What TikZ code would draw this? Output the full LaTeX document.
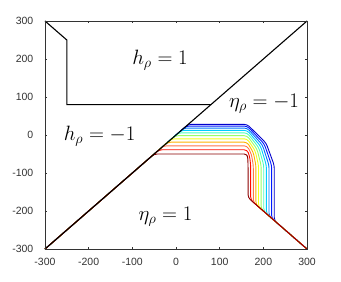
\documentclass[tikz,border=0pt]{standalone}
\usepackage{fontspec}
\setsansfont{Liberation Sans}
\definecolor{c0}{rgb}{0,0,0.8}
\definecolor{c1}{rgb}{0,0.1,1}
\definecolor{c2}{rgb}{0,0.45,1}
\definecolor{c3}{rgb}{0,0.8,1}
\definecolor{c4}{rgb}{0.3,1,0.75}
\definecolor{c5}{rgb}{0.6,1,0.4}
\definecolor{c6}{rgb}{0.95,1,0.1}
\definecolor{c7}{rgb}{1,0.7,0}
\definecolor{c8}{rgb}{1,0.45,0.3}
\definecolor{c9}{rgb}{1,0.05,0}
\definecolor{c10}{rgb}{0.55,0,0}
\definecolor{axiscol}{gray}{0.2}
\begin{document}
\begin{tikzpicture}[x=0.4367pt,y=0.38pt,
  curve/.style={line width=0.9pt, rounded corners=3pt},
  blk/.style={line width=1.1pt, black},
  ticklab/.style={font=\sffamily\fontsize{10.5}{12}\selectfont, inner sep=0pt, text=axiscol},
  lab/.style={font=\fontsize{20}{24}\selectfont, inner sep=0pt}]
\useasboundingbox (-403,355.26) rectangle (377.8,-384.2);
% coloured curves
\foreach \k/\yo/\col in {0/28/c0, 1/23.5/c1, 2/18.3/c2, 3/12.3/c3, 4/5.6/c4, 5/-1.8/c5, 6/-10/c6, 7/-18.9/c7, 8/-28.5/c8, 9/-38.9/c9, 10/-50/c10}{
  \pgfmathsetmacro{\xv}{225-6*\k}
  \pgfmathsetmacro{\xm}{163+0.7*(\xv-163)}
  \pgfmathsetmacro{\ym}{\yo+0.48*(-75-\yo)}
  \draw[curve,\col] (-300,-300) -- (\yo,\yo) -- (163,\yo) -- (\xm,\ym) -- (\xv,-80) -- (\xv,-\xv) -- (300,-300);
}
% black curves
\draw[blk] (-300,300) -- (-250,250) -- (-250,80) -- (80,80);
\draw[blk] (-300,-300) -- (300,300);
% axes box
\draw[axiscol, line width=0.5pt] (-300,-300) rectangle (300,300);
\foreach \t in {-200,-100,0,100,200}{
  \draw[axiscol, line width=0.5pt] (\t,-300) -- ++(0,2.5pt);
  \draw[axiscol, line width=0.5pt] (\t,300) -- ++(0,-2.5pt);
  \draw[axiscol, line width=0.5pt] (-300,\t) -- ++(2.5pt,0);
  \draw[axiscol, line width=0.5pt] (300,\t) -- ++(-2.5pt,0);
}
\foreach \t [count=\i] in {-300,-200,-100,0,100,200,300}{
  \node[ticklab, anchor=north, yshift=-8.5pt] (xl\i) at (\t,-300) {\t};
  \node[ticklab, anchor=east, xshift=-11.5pt] (yl\i) at (-300,\t) {\t};
}
% labels
\node[lab] (h1) at (-36.6,197) {$h_\rho = 1$};
\node[lab] (hm1) at (-175,-3) {$h_\rho = -1$};
\node[lab] (em1) at (201.5,82) {$\eta_\rho = -1$};
\node[lab] (e1) at (-24,-214) {$\eta_\rho = 1$};
\end{tikzpicture}
\end{document}
